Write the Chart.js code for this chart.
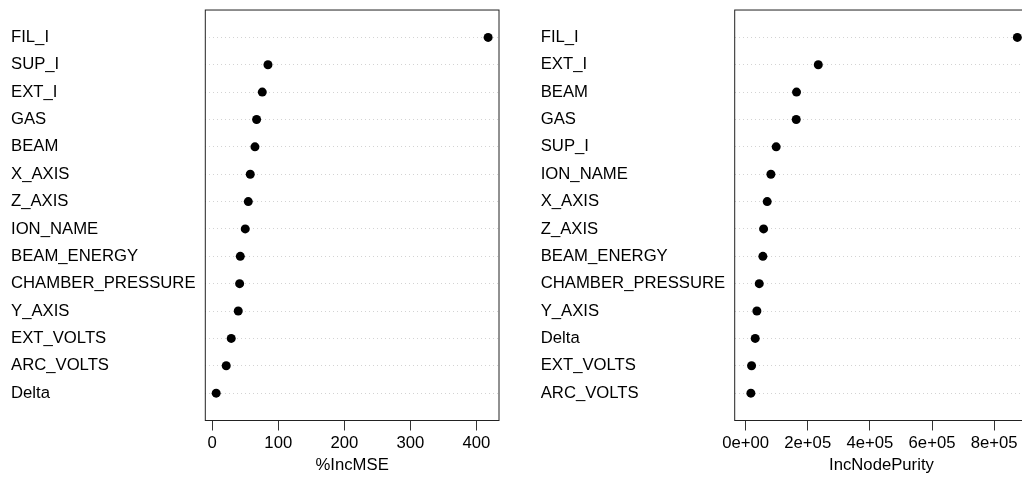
<!DOCTYPE html>
<html>
<head>
<meta charset="utf-8">
<script src="https://cdn.jsdelivr.net/npm/chart.js@4/dist/chart.umd.min.js"></script>
<style>
  html, body { margin: 0; padding: 0; background: #fff; overflow: hidden; }
  #wrap { position: relative; width: 1022px; height: 484px; overflow: hidden; }
  #c1 { position: absolute; left: 0; top: 0; }
  #c2 { position: absolute; left: 520px; top: 0; }
</style>
</head>
<body>
<div id="wrap">
  <canvas id="c1" width="520" height="484"></canvas>
  <canvas id="c2" width="560" height="484"></canvas>
</div>
<script>
// ---- Data (top to bottom) ----
const mseLabels = ['FIL_I','SUP_I','EXT_I','GAS','BEAM','X_AXIS','Z_AXIS','ION_NAME','BEAM_ENERGY','CHAMBER_PRESSURE','Y_AXIS','EXT_VOLTS','ARC_VOLTS','Delta'];
const mseValues = [417.7, 84.4, 75.8, 67.2, 64.7, 57.6, 54.6, 50.0, 42.5, 41.5, 39.4, 28.8, 21.2, 6.0];
const mseTicks = [0, 100, 200, 300, 400];
const mseTitle = '%IncMSE';

const purityLabels = ['FIL_I','EXT_I','BEAM','GAS','SUP_I','ION_NAME','X_AXIS','Z_AXIS','BEAM_ENERGY','CHAMBER_PRESSURE','Y_AXIS','Delta','EXT_VOLTS','ARC_VOLTS'];
const purityValues = [874500, 234000, 164000, 163000, 98500, 81500, 69600, 58000, 55700, 44000, 36400, 31000, 19300, 17100];
const purityTicks = [0, 200000, 400000, 600000, 800000];
const purityTickLabels = ['0e+00', '2e+05', '4e+05', '6e+05', '8e+05'];
const purityTitle = 'IncNodePurity';

const FONT = { family: "'Liberation Sans', Arial, Helvetica, sans-serif", size: 16.7 };

const boxPlugin = {
  id: 'box',
  afterDraw(chart) {
    const a = chart.chartArea, ctx = chart.ctx;
    ctx.save();
    ctx.strokeStyle = '#222';
    ctx.lineWidth = 1;
    ctx.strokeRect(a.left, a.top, a.right - a.left, a.bottom - a.top);
    ctx.restore();
  }
};

function makeChart(canvas, labels, values, ticks, tickLabels, title, xmin, geom) {
  const n = labels.length;
  const xmax = Math.max(...values);
  const span = xmax - xmin;
  return new Chart(canvas, {
    type: 'scatter',
    data: {
      datasets: [{
        data: values.map((v, i) => ({ x: v, y: i + 1 })),
        pointRadius: 4.5,
        pointHoverRadius: 4.5,
        pointBackgroundColor: '#000',
        pointBorderWidth: 0,
        borderWidth: 0
      }]
    },
    options: {
      responsive: false,
      animation: false,
      events: [],
      layout: { padding: { left: geom.padLeft, right: geom.padRight, top: 7.5, bottom: 0 } },
      plugins: { legend: { display: false }, tooltip: { enabled: false } },
      scales: {
        x: {
          type: 'linear',
          position: 'bottom',
          min: xmin - 0.04 * span,
          max: xmax + 0.04 * span,
          afterBuildTicks: s => { s.ticks = ticks.map(v => ({ value: v })); },
          afterFit: s => { s.height = 63.5; },
          grid: { display: true, drawOnChartArea: false, drawTicks: true, tickLength: 10, tickColor: '#333', tickWidth: 1 },
          border: { display: false },
          ticks: {
            color: '#000', font: FONT, padding: 2.5, maxRotation: 0, autoSkip: false,
            callback: (v) => tickLabels[ticks.indexOf(v)]
          },
          title: { display: true, text: title, color: '#000', font: FONT, padding: { top: 0, bottom: 9 } }
        },
        y: {
          type: 'linear',
          position: 'left',
          reverse: true,
          min: 0,
          max: n + 1,
          afterBuildTicks: s => { s.ticks = labels.map((_, i) => ({ value: i + 1 })); },
          afterFit: s => { s.width = geom.yWidth; },
          grid: { display: true, drawOnChartArea: true, drawTicks: false, color: '#d3d3d3', lineWidth: 1 },
          border: { display: false, dash: [1, 3] },
          ticks: {
            color: '#000', font: FONT, crossAlign: 'far', autoSkip: false, padding: 0,
            callback: (v) => labels[v - 1]
          }
        }
      }
    },
    plugins: [boxPlugin]
  });
}

makeChart(document.getElementById('c1'), mseLabels, mseValues, mseTicks,
  mseTicks.map(String), mseTitle, Math.min(...mseValues),
  { padLeft: 11, padRight: 21, yWidth: 194.3 });

makeChart(document.getElementById('c2'), purityLabels, purityValues, purityTicks,
  purityTickLabels, purityTitle, 0,
  { padLeft: 20.7, padRight: 560 - 508.2, yWidth: 194 });
</script>
</body>
</html>
